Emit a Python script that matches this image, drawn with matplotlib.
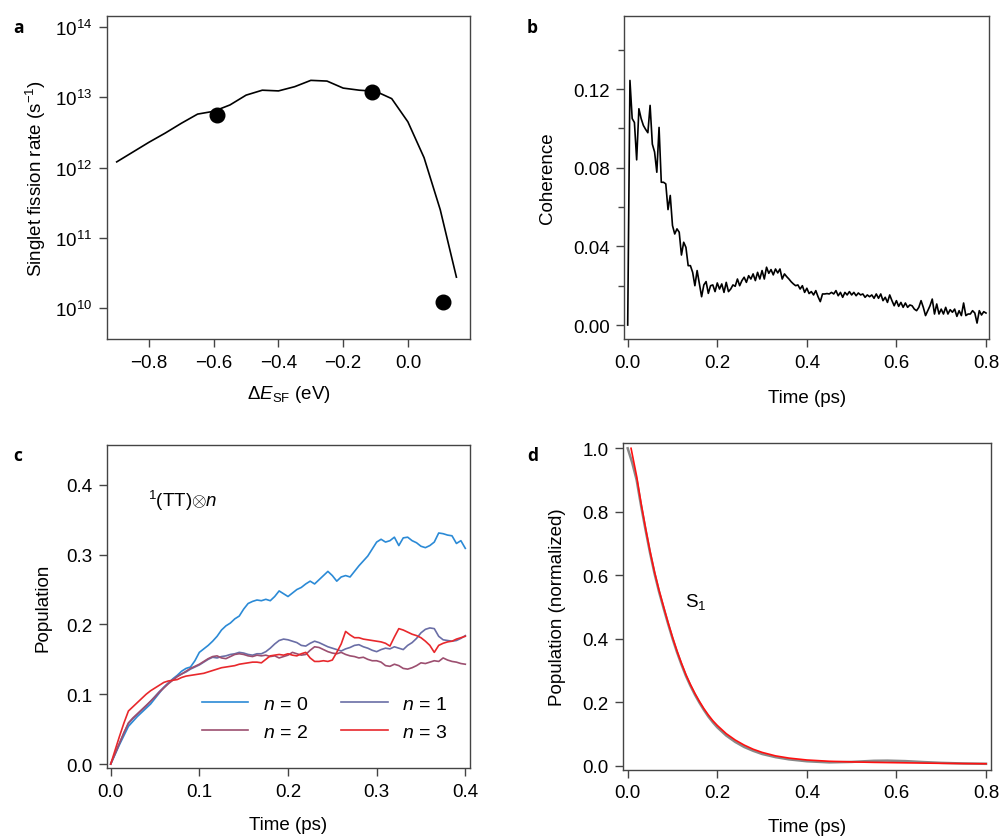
import numpy as np
import matplotlib
matplotlib.use("Agg")
import matplotlib.pyplot as plt
from matplotlib.ticker import FixedLocator, NullLocator

plt.rcParams['font.family'] = ['Liberation Sans', 'DejaVu Sans']
plt.rcParams['mathtext.fontset'] = 'custom'
plt.rcParams['mathtext.rm'] = 'Liberation Sans'
plt.rcParams['mathtext.it'] = 'Liberation Sans:italic'
plt.rcParams['mathtext.bf'] = 'Liberation Sans:bold'
plt.rcParams['axes.unicode_minus'] = True

# ---------------- Panel a data ----------------
a_dE = [-0.90, -0.85, -0.80, -0.75, -0.70, -0.65, -0.60, -0.55, -0.50, -0.45,
        -0.40, -0.35, -0.30, -0.25, -0.20, -0.15, -0.10, -0.05, 0.00, 0.05,
        0.10, 0.15]
a_log_rate = [12.08, 12.22, 12.36, 12.49, 12.63, 12.76, 12.80, 12.89, 13.03, 13.10,
              13.09, 13.15, 13.24, 13.23, 13.13, 13.10, 13.085, 12.98, 12.65, 12.14,
              11.40, 10.44]
a_dots_dE = [-0.591, -0.110, 0.109]
a_dots_log_rate = [12.75, 13.08, 10.085]
a_ytick_exp = [10, 11, 12, 13, 14]

# ---------------- Panel b data ----------------
b_time_step = 0.005
b_coherence = [
    0.0000, 0.1244, 0.1050, 0.1030, 0.0840, 0.1100, 0.1050, 0.1015, 0.0995, 0.0978,
    0.1117, 0.0920, 0.0880, 0.0777, 0.1005, 0.0726, 0.0726, 0.0718, 0.0587, 0.0659,
    0.0506, 0.0463, 0.0489, 0.0472, 0.0356, 0.0421, 0.0395, 0.0302, 0.0302, 0.0268,
    0.0200, 0.0277, 0.0209, 0.0144, 0.0204, 0.0221, 0.0161, 0.0200, 0.0204, 0.0170,
    0.0214, 0.0183, 0.0209, 0.0166, 0.0217, 0.0170, 0.0183, 0.0204, 0.0197, 0.0234,
    0.0200, 0.0226, 0.0243, 0.0217, 0.0251, 0.0234, 0.0260, 0.0226, 0.0268, 0.0234,
    0.0277, 0.0234, 0.0294, 0.0263, 0.0282, 0.0255, 0.0285, 0.0265, 0.0285, 0.0234,
    0.0260, 0.0246, 0.0234, 0.0220, 0.0209, 0.0200, 0.0204, 0.0183, 0.0200, 0.0166,
    0.0187, 0.0160, 0.0170, 0.0153, 0.0175, 0.0144, 0.0119, 0.0158, 0.0158, 0.0160,
    0.0158, 0.0166, 0.0158, 0.0175, 0.0149, 0.0166, 0.0141, 0.0166, 0.0153, 0.0170,
    0.0153, 0.0166, 0.0149, 0.0163, 0.0153, 0.0158, 0.0141, 0.0153, 0.0144, 0.0153,
    0.0136, 0.0158, 0.0136, 0.0158, 0.0124, 0.0141, 0.0115, 0.0153, 0.0124, 0.0098,
    0.0124, 0.0095, 0.0115, 0.0090, 0.0112, 0.0090, 0.0102, 0.0098, 0.0081, 0.0073,
    0.0090, 0.0124, 0.0090, 0.0048, 0.0073, 0.0098, 0.0132, 0.0056, 0.0107, 0.0056,
    0.0081, 0.0056, 0.0090, 0.0056, 0.0078, 0.0065, 0.0081, 0.0044, 0.0073, 0.0048,
    0.0112, 0.0048, 0.0056, 0.0056, 0.0073, 0.0061, 0.0010, 0.0073, 0.0051, 0.0068,
    0.0061]

# ---------------- Panel c data ----------------
c_time_step = 0.005
c_n0 = [0.000, 0.014, 0.028, 0.041, 0.054, 0.061, 0.068, 0.074, 0.080, 0.086,
        0.094, 0.102, 0.110, 0.116, 0.122, 0.127, 0.133, 0.137, 0.139, 0.148,
        0.160, 0.165, 0.170, 0.176, 0.183, 0.192, 0.198, 0.202, 0.208, 0.212,
        0.222, 0.230, 0.233, 0.235, 0.234, 0.236, 0.234, 0.240, 0.248, 0.244,
        0.240, 0.245, 0.250, 0.253, 0.258, 0.262, 0.258, 0.264, 0.270, 0.276,
        0.270, 0.262, 0.268, 0.270, 0.268, 0.276, 0.284, 0.291, 0.298, 0.308,
        0.318, 0.322, 0.318, 0.320, 0.325, 0.313, 0.324, 0.325, 0.320, 0.317,
        0.312, 0.310, 0.313, 0.318, 0.331, 0.330, 0.328, 0.327, 0.316, 0.320,
        0.309]
c_n1 = [0.000, 0.015, 0.030, 0.045, 0.058, 0.065, 0.071, 0.077, 0.083, 0.090,
        0.097, 0.104, 0.110, 0.116, 0.121, 0.126, 0.129, 0.132, 0.136, 0.139,
        0.142, 0.146, 0.150, 0.153, 0.152, 0.154, 0.155, 0.157, 0.158, 0.160,
        0.159, 0.157, 0.156, 0.158, 0.158, 0.161, 0.166, 0.172, 0.177, 0.179,
        0.178, 0.176, 0.174, 0.170, 0.169, 0.173, 0.176, 0.174, 0.171, 0.168,
        0.166, 0.164, 0.162, 0.165, 0.167, 0.170, 0.171, 0.168, 0.166, 0.163,
        0.161, 0.164, 0.166, 0.165, 0.168, 0.166, 0.164, 0.170, 0.174, 0.180,
        0.188, 0.193, 0.195, 0.194, 0.183, 0.178, 0.177, 0.176, 0.177, 0.180,
        0.184]
c_n2 = [0.000, 0.015, 0.030, 0.045, 0.059, 0.066, 0.072, 0.078, 0.084, 0.090,
        0.096, 0.103, 0.109, 0.115, 0.120, 0.125, 0.129, 0.133, 0.137, 0.140,
        0.143, 0.147, 0.151, 0.154, 0.155, 0.152, 0.151, 0.154, 0.157, 0.158,
        0.157, 0.155, 0.154, 0.156, 0.155, 0.156, 0.154, 0.155, 0.152, 0.154,
        0.156, 0.160, 0.158, 0.156, 0.157, 0.163, 0.168, 0.167, 0.164, 0.161,
        0.159, 0.158, 0.160, 0.157, 0.155, 0.154, 0.152, 0.153, 0.150, 0.148,
        0.148, 0.146, 0.141, 0.140, 0.143, 0.141, 0.137, 0.136, 0.138, 0.141,
        0.145, 0.144, 0.146, 0.148, 0.147, 0.152, 0.149, 0.147, 0.146, 0.144,
        0.143]
c_n3 = [0.000, 0.020, 0.040, 0.059, 0.076, 0.082, 0.088, 0.094, 0.100, 0.105,
        0.109, 0.113, 0.117, 0.119, 0.120, 0.121, 0.124, 0.126, 0.127, 0.128,
        0.129, 0.130, 0.132, 0.134, 0.136, 0.138, 0.139, 0.140, 0.141, 0.143,
        0.144, 0.145, 0.146, 0.146, 0.145, 0.150, 0.155, 0.156, 0.157, 0.156,
        0.158, 0.156, 0.155, 0.158, 0.160, 0.152, 0.147, 0.147, 0.148, 0.147,
        0.149, 0.160, 0.172, 0.190, 0.185, 0.181, 0.181, 0.179, 0.178, 0.177,
        0.176, 0.175, 0.173, 0.169, 0.182, 0.194, 0.192, 0.189, 0.186, 0.184,
        0.181, 0.176, 0.170, 0.160, 0.170, 0.173, 0.175, 0.176, 0.179, 0.181,
        0.183]
c_labels = ['$\\mathit{n}$ = 0', '$\\mathit{n}$ = 1', '$\\mathit{n}$ = 2', '$\\mathit{n}$ = 3']
c_colors = ['#2b8ad6', '#6a6ea6', '#9c4f70', '#e8282c']

# ---------------- Panel d data ----------------
d_red_t = [0.0075, 0.02, 0.03, 0.04, 0.05, 0.06, 0.07, 0.08, 0.09, 0.10,
           0.11, 0.12, 0.13, 0.14, 0.15, 0.16, 0.17, 0.18, 0.19, 0.20,
           0.22, 0.24, 0.26, 0.28, 0.30, 0.33, 0.36, 0.40, 0.45, 0.50,
           0.55, 0.60, 0.65, 0.70, 0.75, 0.80]
d_red_pop = [1.000, 0.912, 0.826, 0.748, 0.675, 0.610, 0.553, 0.502, 0.452, 0.405,
             0.362, 0.323, 0.287, 0.256, 0.228, 0.203, 0.180, 0.160, 0.142, 0.127,
             0.101, 0.081, 0.065, 0.052, 0.042, 0.031, 0.024, 0.018, 0.014, 0.012,
             0.0105, 0.0095, 0.0085, 0.0075, 0.0068, 0.0062]
d_gray_t = [0.0, 0.01, 0.02, 0.03, 0.04, 0.05, 0.06, 0.07, 0.08, 0.09,
            0.10, 0.11, 0.12, 0.13, 0.14, 0.15, 0.16, 0.17, 0.18, 0.19,
            0.20, 0.22, 0.24, 0.26, 0.28, 0.30, 0.33, 0.36, 0.40, 0.45,
            0.50, 0.55, 0.58, 0.62, 0.66, 0.70, 0.75, 0.80]
d_gray_pop = [1.000, 0.955, 0.900, 0.818, 0.742, 0.670, 0.605, 0.548, 0.497, 0.448,
              0.401, 0.358, 0.319, 0.283, 0.252, 0.224, 0.199, 0.176, 0.155, 0.137,
              0.121, 0.095, 0.075, 0.059, 0.047, 0.037, 0.027, 0.020, 0.014, 0.0105,
              0.012, 0.0155, 0.016, 0.0145, 0.0115, 0.009, 0.007, 0.006]

# ---------------- Figure ----------------
FS = 13.5
SPINE = '#444444'
fig = plt.figure(figsize=(10, 8.37), dpi=100)

def style(ax, ypad=10, xpad=11):
    for s in ax.spines.values():
        s.set_color(SPINE)
        s.set_linewidth(1.0)
    ax.tick_params(which='major', direction='out', length=5.5, width=1.0,
                   color=SPINE, labelsize=FS, pad=5, top=False, right=False)
    ax.tick_params(which='minor', direction='out', length=4, width=1.0,
                   color=SPINE, top=False, right=False)
    ax.xaxis.labelpad = xpad
    ax.yaxis.labelpad = ypad

# Panel a
axa = fig.add_axes([0.107, 0.5938, 0.363, 0.3859])
rate = [10 ** v for v in a_log_rate]
axa.plot(a_dE, rate, color='black', lw=1.2)
axa.plot(a_dots_dE, [10 ** v for v in a_dots_log_rate], 'o', color='black',
         markersize=10.5, zorder=5)
axa.set_yscale('log')
axa.set_xlim(-0.93, 0.192)
axa.set_ylim(10 ** 9.56, 10 ** 14.156)
axa.yaxis.set_major_locator(FixedLocator([10.0 ** e for e in a_ytick_exp]))
axa.yaxis.set_minor_locator(NullLocator())
axa.set_yticklabels(['10$^{\\mathregular{%d}}$' % e for e in a_ytick_exp])
axa.set_xticks([-0.8, -0.6, -0.4, -0.2, 0.0])
axa.set_xticklabels(['\u22120.8', '\u22120.6', '\u22120.4', '\u22120.2', '0.0'])
axa.set_ylabel('Singlet fission rate (s$^{\u22121}$)', fontsize=FS)
axa.set_xlabel('\u0394$\\mathit{E}_{\\mathrm{SF}}$ (eV)', fontsize=FS)
style(axa, ypad=5, xpad=9)

# Panel b
axb = fig.add_axes([0.6243, 0.5938, 0.3647, 0.3855])
b_t = np.arange(len(b_coherence)) * b_time_step
axb.plot(b_t, b_coherence, color='black', lw=1.2)
axb.set_xlim(-0.0076, 0.8067)
axb.set_ylim(-0.0071, 0.157)
axb.set_xticks([0.0, 0.2, 0.4, 0.6, 0.8])
axb.set_xticklabels(['0.0', '0.2', '0.4', '0.6', '0.8'])
axb.set_yticks([0.0, 0.04, 0.08, 0.12])
axb.set_yticklabels(['0.00', '0.04', '0.08', '0.12'])
axb.yaxis.set_minor_locator(FixedLocator([0.02, 0.06, 0.10, 0.14]))
axb.set_ylabel('Coherence', fontsize=FS)
axb.set_xlabel('Time (ps)', fontsize=FS)
style(axb, ypad=12, xpad=13)

# Panel c
axc = fig.add_axes([0.1067, 0.0812, 0.3633, 0.3859])
c_t = np.arange(len(c_n0)) * c_time_step
lines = []
for series, col, lab in zip([c_n0, c_n1, c_n2, c_n3], c_colors, c_labels):
    ln, = axc.plot(c_t, series, color=col, lw=1.2, label=lab)
    lines.append(ln)
axc.set_xlim(-0.0045, 0.4053)
axc.set_ylim(-0.0057, 0.457)
axc.set_xticks([0.0, 0.1, 0.2, 0.3, 0.4])
axc.set_xticklabels(['0.0', '0.1', '0.2', '0.3', '0.4'])
axc.set_yticks([0.0, 0.1, 0.2, 0.3, 0.4])
axc.set_yticklabels(['0.0', '0.1', '0.2', '0.3', '0.4'])
axc.set_ylabel('Population', fontsize=FS)
axc.set_xlabel('Time (ps)', fontsize=FS)
axc.text(0.0425, 0.379, '$^{1}$(TT)$\\otimes\\mathit{n}$', fontsize=FS,
         ha='left', va='center')
order = [0, 2, 1, 3]
axc.legend([lines[i] for i in order], [c_labels[i] for i in order], ncol=2,
           frameon=False, fontsize=14, loc='upper left',
           bbox_to_anchor=(0.24, 0.25), handlelength=2.4, handletextpad=0.75,
           columnspacing=1.7, labelspacing=0.55, borderaxespad=0)
style(axc, ypad=10, xpad=12)

# Panel d
axd = fig.add_axes([0.6233, 0.0792, 0.3674, 0.39])
axd.plot(d_gray_t, d_gray_pop, color='#888888', lw=1.8)
axd.plot(d_red_t, d_red_pop, color='#ff1010', lw=1.2)
axd.set_xlim(-0.0098, 0.8104)
axd.set_ylim(-0.0126, 1.0158)
axd.set_xticks([0.0, 0.2, 0.4, 0.6, 0.8])
axd.set_xticklabels(['0.0', '0.2', '0.4', '0.6', '0.8'])
axd.set_yticks([0.0, 0.2, 0.4, 0.6, 0.8, 1.0])
axd.set_yticklabels(['0.0', '0.2', '0.4', '0.6', '0.8', '1.0'])
axd.set_ylabel('Population (normalized)', fontsize=FS)
axd.set_xlabel('Time (ps)', fontsize=FS)
axd.text(0.128, 0.52, 'S$_{1}$', fontsize=FS, ha='left', va='center')
style(axd, ypad=12, xpad=12)

# Panel letters
for x, y, s in [(0.013, 0.967, 'a'), (0.527, 0.967, 'b'),
                (0.013, 0.455, 'c'), (0.527, 0.455, 'd')]:
    fig.text(x, y, s, fontsize=12.5, fontweight='bold', family='Open Sans',
             ha='left', va='center')

fig.savefig('out.png', dpi=100)
